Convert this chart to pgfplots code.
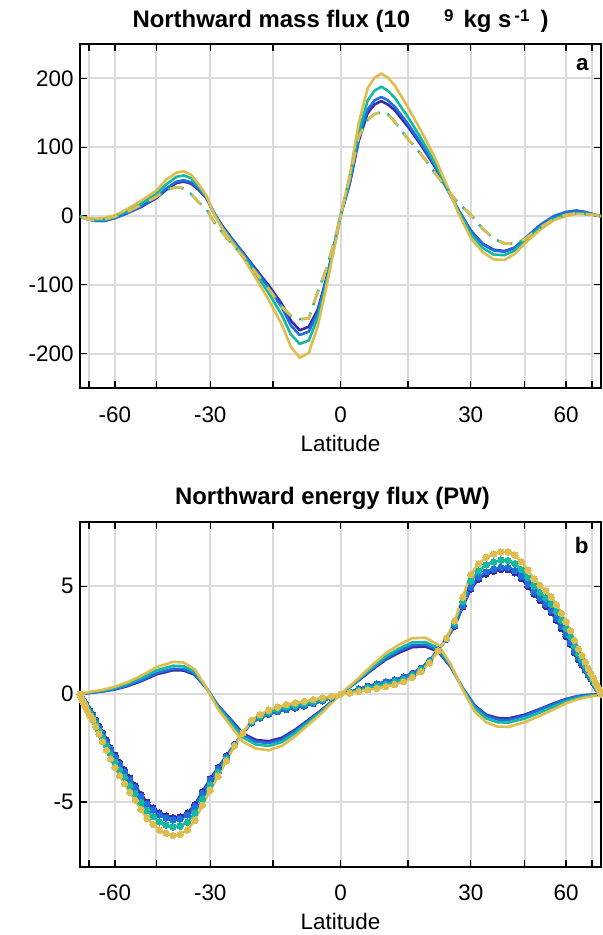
\documentclass[border=0pt]{standalone}
\usepackage{pgfplots}
\pgfplotsset{compat=1.18}
\usepackage{pgfplotstable}
\usepackage{fontspec}
\setmainfont{Liberation Sans}
\definecolor{cP}{RGB}{62,38,168}
\definecolor{cB}{RGB}{30,112,222}
\definecolor{cT}{RGB}{22,184,160}
\definecolor{cG}{RGB}{222,188,78}
\newcommand{\fz}{\fontsize{22.5}{27}\selectfont}
\newcommand{\tz}{\fontsize{24}{28}\selectfont\bfseries}
\newcommand{\sz}{\fontsize{17}{19}\selectfont\bfseries}

% Northward mass flux: lat  gold teal blue purple dashed
\pgfplotstableread{
lat g t b p d
-90 0 0 0 0 0
-85 -1 -1 -1 -1 -1
-80 -2 -3 -3 -3 -3
-75 -3 -4 -5 -5 -5
-70 -4 -6 -7 -7 -6
-65 -3 -5 -7 -7 -5
-60 1 -1 -3 -3 -1
-55 10 7 4 4 6
-50 22 18 14 13 16
-45 37 32 27 26 28
-42 53 46 40 38 38
-39 63 57 50 48 42
-37 65 59 52 50 40
-35 60 55 49 47 32
-33 46 43 40 38 20
-31 30 28 27 26 10
-29 2 3 4 4 -9
-27 -18 -17 -15 -14 -24
-25 -35 -33 -31 -30 -38
-22 -60 -57 -54 -53 -58
-19 -90 -84 -79 -77 -82
-16 -122 -112 -104 -101 -106
-13 -158 -144 -133 -128 -132
-11 -190 -172 -159 -152 -145
-9 -206 -186 -173 -166 -150
-7 -199 -181 -168 -161 -149
-5 -160 -148 -140 -136 -110
-3 -100 -94 -90 -88 -75
-1 -35 -33 -32 -31 -28
0 0 0 0 0 0
2 58 52 48 46 55
4 135 122 113 109 115
6 186 168 155 150 140
7.5 201 182 168 162 148
9 207 188 173 167 151
10.5 201 182 168 162 148
12 190 172 159 154 137
15 158 144 134 130 112
18 124 113 106 103 90
21 88 80 76 74 65
24 46 43 42 41 40
27 3 6 8 8 18
30 -32 -26 -22 -21 2
33 -52 -46 -41 -40 -18
36 -63 -56 -50 -49 -33
39 -64 -57 -52 -51 -40
42 -55 -50 -46 -46 -40
45 -40 -37 -33 -34 -34
50 -20 -17 -13 -14 -17
55 -6 -4 0 -1 -4
60 0 2 6 5 2
65 3 4 8 7 4
70 3 3 6 5 3
75 2 2 3 3 2
80 1 1 1 1 1
85 0 0 0 0 0
90 0 0 0 0 0
}\massT

% Northward energy flux, smooth curves: lat gold teal blue purple
\pgfplotstableread{
lat g t b p
-90 0 0 0 0
-85 0.02 0.02 0.01 0.01
-80 0.05 0.04 0.03 0.03
-75 0.1 0.08 0.06 0.05
-70 0.15 0.12 0.1 0.09
-65 0.22 0.18 0.15 0.14
-60 0.35 0.29 0.24 0.22
-55 0.55 0.47 0.4 0.37
-50 0.85 0.74 0.64 0.6
-45 1.25 1.1 0.97 0.92
-40 1.5 1.32 1.18 1.11
-37 1.47 1.3 1.17 1.1
-34 1.15 1.03 0.95 0.9
-31 0.3 0.3 0.3 0.28
-28 -0.7 -0.6 -0.55 -0.53
-25 -1.45 -1.3 -1.2 -1.15
-22 -2.2 -2.0 -1.88 -1.82
-19 -2.52 -2.33 -2.2 -2.12
-16 -2.6 -2.4 -2.27 -2.18
-13 -2.4 -2.22 -2.1 -2.02
-10 -1.95 -1.8 -1.7 -1.64
-7 -1.4 -1.3 -1.22 -1.18
-4 -0.85 -0.78 -0.73 -0.7
0 0 0 0 0
4 0.75 0.7 0.66 0.64
7 1.35 1.25 1.18 1.14
10 1.9 1.75 1.65 1.6
13 2.3 2.12 2.0 1.93
16 2.6 2.4 2.27 2.18
19 2.62 2.42 2.3 2.21
22 2.3 2.15 2.05 1.98
25 1.4 1.35 1.3 1.27
28 0.2 0.25 0.28 0.28
31 -0.8 -0.65 -0.55 -0.52
34 -1.3 -1.12 -1.0 -0.95
37 -1.5 -1.3 -1.17 -1.1
40 -1.52 -1.32 -1.2 -1.13
45 -1.3 -1.13 -1.0 -0.95
50 -1.0 -0.85 -0.72 -0.68
55 -0.7 -0.57 -0.45 -0.42
60 -0.42 -0.33 -0.24 -0.22
65 -0.25 -0.18 -0.11 -0.1
70 -0.15 -0.1 -0.05 -0.04
75 -0.1 -0.06 -0.03 -0.02
80 -0.06 -0.04 -0.02 -0.01
85 -0.03 -0.02 -0.01 0
90 0 0 0 0
}\enS

% Northward energy flux, curves with dots: lat gold teal blue purple
\pgfplotstableread{
lat g t b p
-90 0 0 0 0
-88 -0.04 -0.04 -0.03 -0.03
-86 -0.1 -0.09 -0.08 -0.08
-84 -0.18 -0.16 -0.14 -0.14
-82 -0.3 -0.27 -0.24 -0.23
-80 -0.45 -0.4 -0.36 -0.35
-78 -0.6 -0.54 -0.48 -0.46
-76 -0.8 -0.72 -0.64 -0.62
-74 -1.0 -0.9 -0.81 -0.78
-72 -1.2 -1.09 -0.98 -0.95
-70 -1.5 -1.36 -1.23 -1.19
-68 -1.85 -1.69 -1.54 -1.49
-66 -2.2 -2.01 -1.84 -1.78
-64 -2.6 -2.39 -2.2 -2.13
-62 -3.0 -2.76 -2.55 -2.48
-60 -3.4 -3.14 -2.91 -2.83
-58 -3.78 -3.5 -3.26 -3.17
-56 -4.15 -3.85 -3.6 -3.51
-54 -4.55 -4.24 -3.98 -3.89
-52 -4.92 -4.6 -4.33 -4.24
-50 -5.35 -5.02 -4.74 -4.65
-48 -5.75 -5.4 -5.1 -5.01
-46 -6.05 -5.68 -5.37 -5.28
-44 -6.3 -5.92 -5.6 -5.5
-42 -6.45 -6.07 -5.74 -5.64
-40 -6.55 -6.16 -5.83 -5.73
-38 -6.5 -6.12 -5.79 -5.69
-36 -6.3 -5.93 -5.6 -5.51
-34 -5.85 -5.5 -5.2 -5.12
-32 -5.15 -4.86 -4.6 -4.52
-30 -4.45 -4.2 -3.98 -3.92
-28 -3.8 -3.62 -3.45 -3.4
-26 -3.1 -3.0 -2.9 -2.86
-24 -2.4 -2.37 -2.34 -2.33
-22 -1.8 -1.8 -1.8 -1.8
-20 -1.21 -1.27 -1.33 -1.33
-18 -0.95 -1.03 -1.1 -1.1
-16 -0.74 -0.83 -0.92 -0.93
-14 -0.6 -0.7 -0.8 -0.81
-12 -0.48 -0.59 -0.7 -0.71
-10 -0.4 -0.52 -0.63 -0.64
-8 -0.33 -0.44 -0.54 -0.55
-6 -0.25 -0.34 -0.43 -0.44
-4 -0.17 -0.24 -0.3 -0.31
-2 -0.1 -0.13 -0.16 -0.17
0 0 0 0 0
2 0.05 0.08 0.1 0.1
4 0.12 0.18 0.23 0.24
6 0.2 0.28 0.36 0.37
8 0.27 0.37 0.47 0.48
10 0.35 0.46 0.57 0.58
12 0.45 0.56 0.66 0.67
14 0.58 0.68 0.78 0.79
16 0.78 0.87 0.96 0.97
18 1.05 1.13 1.2 1.2
20 1.45 1.5 1.56 1.56
22 2.0 2.02 2.05 2.05
24 2.6 2.58 2.56 2.55
26 3.4 3.3 3.2 3.15
28 4.5 4.3 4.1 4.05
30 5.55 5.25 4.95 4.88
32 6.05 5.72 5.42 5.33
34 6.35 6.0 5.68 5.58
36 6.5 6.13 5.8 5.7
38 6.6 6.22 5.88 5.78
40 6.6 6.2 5.87 5.77
42 6.45 6.06 5.73 5.63
44 6.15 5.78 5.46 5.36
46 5.75 5.4 5.1 5.0
48 5.35 5.02 4.73 4.64
50 5.05 4.72 4.44 4.35
52 4.8 4.46 4.18 4.08
54 4.5 4.17 3.88 3.78
56 4.15 3.82 3.53 3.43
58 3.75 3.43 3.15 3.05
60 3.35 3.04 2.77 2.68
62 2.95 2.66 2.4 2.31
64 2.5 2.24 2.0 1.92
66 2.1 1.87 1.66 1.59
68 1.8 1.6 1.41 1.35
70 1.5 1.33 1.16 1.11
72 1.2 1.06 0.92 0.88
74 0.96 0.84 0.73 0.7
76 0.75 0.65 0.56 0.54
78 0.55 0.48 0.41 0.39
80 0.4 0.35 0.3 0.28
82 0.28 0.24 0.2 0.19
84 0.17 0.15 0.12 0.11
86 0.08 0.07 0.06 0.05
88 0.03 0.03 0.02 0.02
90 0 0 0 0
}\enD

\pgfplotsset{
  latax/.style={
    scale only axis, width=521bp,
    xmin=-90, xmax=90,
    x coord trafo/.code={\pgfmathparse{sin(##1)}},
    x coord inv trafo/.code={\pgfmathparse{asin(##1)}},
    xtick={-75,-60,-45,-30,-15,0,15,30,45,60,75},
    xticklabels={,-60,,-30,,0,,30,,60,},
    grid=major, grid style={black!14, line width=2bp},
    tick align=inside, major tick length=7bp,
    tick style={black, line width=1.3bp},
    axis line style={black, line width=1.8bp},
    ticklabel style={font=\fz},
    xticklabel style={anchor=base, yshift=-34bp},
    yticklabel style={anchor=east, xshift=-3bp},
    xlabel={Latitude},
    xlabel style={font=\fz, at={(axis description cs:0.5,0)}, anchor=base, yshift=-63bp},
    title style={font=\tz, at={(axis description cs:0.5,1)}, anchor=base, yshift=11bp},
    every axis plot/.append style={line width=2.6bp, line join=round},
  },
}

\begin{document}
\begin{tikzpicture}
\path[use as bounding box] (-80bp,-547bp) rectangle (523bp,388bp);

\begin{axis}[latax, at={(0,0)}, anchor=south west, height=344bp,
  ymin=-250, ymax=250,
  ytick={-200,-100,0,100,200}, yticklabels={-200,-100,0,100,200},
  title={Northward mass flux (10\hspace{34bp}\raisebox{6bp}{\sz 9}\hspace{10bp}kg s\hspace{3bp}\raisebox{6bp}{\sz -1}\hspace{11bp})},
]
\addplot[cP, no marks] table[x=lat, y=p] {\massT};
\addplot[cB, no marks] table[x=lat, y=b] {\massT};
\addplot[cT, no marks] table[x=lat, y=t] {\massT};
\addplot[cG, no marks] table[x=lat, y=g] {\massT};
\addplot[cT, no marks, dash pattern=on 16bp off 8bp] table[x=lat, y=d] {\massT};
\addplot[cG, no marks, dash pattern=on 13bp off 11bp, dash phase=-2bp] table[x=lat, y=d] {\massT};
\node[font=\fz\bfseries, anchor=base east] at (rel axis cs:0.983,0.924) {a};
\end{axis}

\begin{axis}[latax, at={(0,-478.7bp)}, anchor=south west, height=345bp,
  ymin=-8, ymax=8,
  ytick={-5,0,5}, yticklabels={-5,0,5},
  title={Northward energy flux (PW)},
  title style={xshift=-8bp},
]
\addplot[cP, no marks] table[x=lat, y=p] {\enS};
\addplot[cP, mark=*, mark size=3.2bp, mark options={line width=0pt}] table[x=lat, y=p] {\enD};
\addplot[cB, no marks] table[x=lat, y=b] {\enS};
\addplot[cB, mark=*, mark size=3.2bp, mark options={line width=0pt}] table[x=lat, y=b] {\enD};
\addplot[cT, no marks] table[x=lat, y=t] {\enS};
\addplot[cT, mark=*, mark size=3.2bp, mark options={line width=0pt}] table[x=lat, y=t] {\enD};
\addplot[cG, no marks] table[x=lat, y=g] {\enS};
\addplot[cG, mark=*, mark size=3.2bp, mark options={line width=0pt}] table[x=lat, y=g] {\enD};
\node[font=\fz\bfseries, anchor=base east] at (rel axis cs:0.983,0.909) {b};
\end{axis}
\end{tikzpicture}
\end{document}
